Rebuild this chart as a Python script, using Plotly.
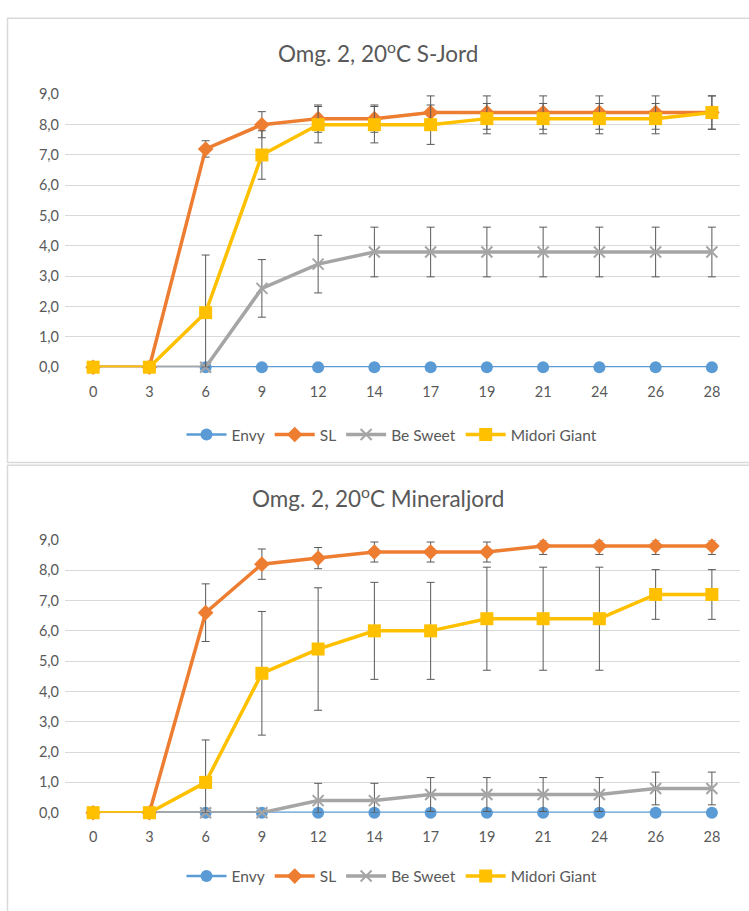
import plotly.graph_objects as go

days = ["0", "3", "6", "9", "12", "14", "17", "19", "21", "24", "26", "28"]
series_names = ["Envy", "SL", "Be Sweet", "Midori Giant"]

# Chart 1: Omg. 2, 20oC S-Jord
top_envy = [0, 0, 0, 0, 0, 0, 0, 0, 0, 0, 0, 0]
top_sl = [0, 0, 7.2, 8.0, 8.2, 8.2, 8.4, 8.4, 8.4, 8.4, 8.4, 8.4]
top_sl_err = [0, 0, 0.27, 0.43, 0.45, 0.45, 0.55, 0.55, 0.55, 0.55, 0.55, 0.55]
top_besweet = [0, 0, 0, 2.6, 3.4, 3.8, 3.8, 3.8, 3.8, 3.8, 3.8, 3.8]
top_besweet_err = [0, 0, 0, 0.95, 0.95, 0.82, 0.82, 0.82, 0.82, 0.82, 0.82, 0.82]
top_midori = [0, 0, 1.8, 7.0, 8.0, 8.0, 8.0, 8.2, 8.2, 8.2, 8.2, 8.4]
top_midori_err = [0, 0, 1.9, 0.8, 0.6, 0.6, 0.65, 0.5, 0.5, 0.5, 0.5, 0.55]

# Chart 2: Omg. 2, 20oC Mineraljord
bot_envy = [0, 0, 0, 0, 0, 0, 0, 0, 0, 0, 0, 0]
bot_sl = [0, 0, 6.6, 8.2, 8.4, 8.6, 8.6, 8.6, 8.8, 8.8, 8.8, 8.8]
bot_sl_err = [0, 0, 0.95, 0.5, 0.35, 0.33, 0.33, 0.33, 0.28, 0.28, 0.28, 0.28]
bot_besweet = [0, 0, 0, 0, 0.4, 0.4, 0.6, 0.6, 0.6, 0.6, 0.8, 0.8]
bot_besweet_err = [0, 0, 0, 0, 0.57, 0.57, 0.56, 0.56, 0.56, 0.56, 0.54, 0.54]
bot_midori = [0, 0, 1.0, 4.6, 5.4, 6.0, 6.0, 6.4, 6.4, 6.4, 7.2, 7.2]
bot_midori_err = [0, 0, 1.4, 2.04, 2.02, 1.6, 1.6, 1.7, 1.7, 1.7, 0.82, 0.82]

y_ticks = [0, 1, 2, 3, 4, 5, 6, 7, 8, 9]
y_max = 9

colors = ["#5B9BD5", "#ED7D31", "#A5A5A5", "#FFC000"]
symbols = ["circle", "diamond", "x-thin", "square"]
msizes = [12, 12, 11, 13]
lwidths = [2.5, 3.5, 3.5, 3.5]
TXT = "#595959"
FONT = "Lato, 'Open Sans', sans-serif"

fig = go.Figure()


def add_chart(vals, errs, xa, ya, legend):
    for i, (name, v, e) in enumerate(zip(series_names, vals, errs)):
        kw = {}
        if e is not None:
            plus = [min(ee, y_max - vv) for vv, ee in zip(v, e)]
            minus = [min(ee, vv) for vv, ee in zip(v, e)]
            kw["error_y"] = dict(type="data", symmetric=False, array=plus, arrayminus=minus,
                                 color="#595959", thickness=1, width=4)
        marker = dict(symbol=symbols[i], size=msizes[i], color=colors[i])
        if symbols[i] == "x-thin":
            marker["line"] = dict(color=colors[i], width=2)
        fig.add_trace(go.Scatter(
            x=days, y=v, name=name, mode="lines+markers",
            line=dict(color=colors[i], width=lwidths[i]),
            marker=marker, xaxis=xa, yaxis=ya, legend=legend,
            cliponaxis=False, **kw))


add_chart([top_envy, top_sl, top_besweet, top_midori],
          [None, top_sl_err, top_besweet_err, top_midori_err], "x", "y", "legend")
add_chart([bot_envy, bot_sl, bot_besweet, bot_midori],
          [None, bot_sl_err, bot_besweet_err, bot_midori_err], "x2", "y2", "legend2")

W, H = 749, 911
xdom = [65 / W, 740 / W]
axis_x = dict(type="category", showgrid=False, showline=False, zeroline=False, ticks="",
              tickfont=dict(size=14.5, color=TXT, family=FONT), ticklabelstandoff=14,
              range=[-0.5, 11.5], fixedrange=True)
axis_y = dict(range=[0, 9], tickvals=y_ticks, tickformat=".1f", showgrid=True,
              gridcolor="#D9D9D9", gridwidth=1, zeroline=False, showline=False, ticks="",
              tickfont=dict(size=14.5, color=TXT, family=FONT), ticklabelstandoff=5)

legend_common = dict(orientation="h", xanchor="center", yanchor="middle", itemwidth=40,
                     font=dict(size=15.5, color=TXT, family=FONT), bgcolor="rgba(0,0,0,0)")

fig.update_layout(
    width=W, height=H, margin=dict(l=0, r=0, t=0, b=0),
    paper_bgcolor="white", plot_bgcolor="white",
    separators=", ",
    font=dict(family=FONT, color=TXT, size=14),
    xaxis=dict(axis_x, domain=xdom, anchor="y"),
    yaxis=dict(axis_y, domain=[1 - 365 / H, 1 - 87 / H], anchor="x"),
    xaxis2=dict(axis_x, domain=xdom, anchor="y2"),
    yaxis2=dict(axis_y, domain=[1 - 819 / H, 1 - 541 / H], anchor="x2"),
    legend=dict(legend_common, x=392 / W, y=1 - 434 / H),
    legend2=dict(legend_common, x=392 / W, y=1 - 884 / H),
    showlegend=True,
    annotations=[
        dict(text="Omg. 2, 20<sup>o</sup>C S-Jord", x=378 / W, y=1 - 44 / H, xref="paper", yref="paper",
             showarrow=False, font=dict(size=22.5, color=TXT, family=FONT), xanchor="center", yanchor="middle"),
        dict(text="Omg. 2, 20<sup>o</sup>C Mineraljord", x=378 / W, y=1 - 497 / H, xref="paper", yref="paper",
             showarrow=False, font=dict(size=22.5, color=TXT, family=FONT), xanchor="center", yanchor="middle"),
    ],
    shapes=[
        dict(type="rect", xref="paper", yref="paper", x0=7.5 / W, x1=1.05, y0=1 - 462 / H, y1=1 - 9.5 / H,
             line=dict(color="#D9D9D9", width=1.5), layer="below"),
        dict(type="rect", xref="paper", yref="paper", x0=7.5 / W, x1=1.05, y0=-0.05, y1=1 - 465 / H,
             line=dict(color="#D9D9D9", width=1.5), layer="below"),
    ],
)

fig.write_html("out.html")
